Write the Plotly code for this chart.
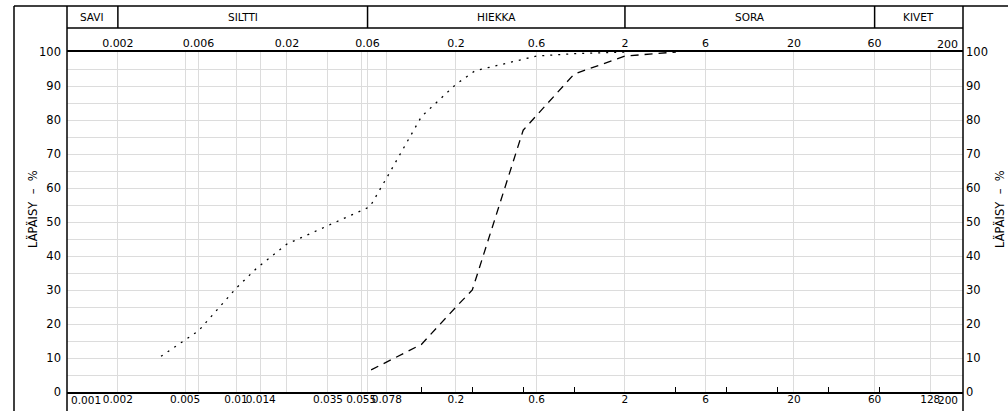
import math
import plotly.graph_objects as go

# ---- data ----
fine_d = [0.0036, 0.006, 0.01, 0.0133, 0.02, 0.037, 0.062, 0.08, 0.125, 0.2, 0.26, 0.6, 1.0, 2.0]
fine_p = [10.5, 18, 30.5, 36.5, 43.5, 49.5, 54.5, 64, 81, 90.5, 94.5, 98.8, 99.5, 100]

coarse_d = [0.063, 0.125, 0.2, 0.25, 0.5, 1.0, 2.0, 4.0]
coarse_p = [6.5, 14, 25, 30, 77, 93.5, 98.8, 100]

bottom_vals = [0.002, 0.005, 0.01, 0.014, 0.035, 0.055, 0.078, 0.2, 0.6, 2, 6, 20, 60, 128]
bottom_text = ["0.002", "0.005", "0.01", "0.014", "0.035", "0.055", "0.078", "0.2", "0.6", "2", "6", "20", "60", "128"]
top_vals = [0.002, 0.006, 0.02, 0.06, 0.2, 0.6, 2, 6, 20, 60]
top_text = ["0.002", "0.006", "0.02", "0.06", "0.2", "0.6", "2", "6", "20", "60"]
sieve_vals = [0.125, 0.25, 0.5, 1, 4, 8, 16, 32, 64]

x_min, x_max = 0.001, 200
class_bounds = [0.001, 0.002, 0.06, 2, 60, 200]
class_names = ["SAVI", "SILTTI", "HIEKKA", "SORA", "KIVET"]
y_ticks = list(range(0, 101, 10))
y_title = "LÄPÄISY\u00a0\u00a0–\u00a0\u00a0%"

# ---- layout geometry (pixels) ----
W, H = 1008, 411
L, R, T, B = 67, 963, 52, 392


def py(Y):
    return (B - Y) / (B - T)


def px(X):
    return (X - L) / (R - L)


FONT = "DejaVu Sans"
NUM_SIZE = 11
BOT_SIZE = 10.5
GRID = "#dcdcdc"

fig = go.Figure()
fig.add_trace(go.Scatter(x=fine_d, y=fine_p, mode="lines",
                         line=dict(color="black", width=1.3, dash="2px,6px"),
                         xaxis="x", yaxis="y", showlegend=False, hoverinfo="skip"))
fig.add_trace(go.Scatter(x=coarse_d, y=coarse_p, mode="lines",
                         line=dict(color="black", width=1.3, dash="8px,6px"),
                         xaxis="x2", yaxis="y2", showlegend=False, hoverinfo="skip"))

xr = [math.log10(x_min), math.log10(x_max)]

fig.update_layout(
    width=W, height=H,
    margin=dict(l=L, r=W - R, t=T, b=H - B, autoexpand=False),
    paper_bgcolor="white", plot_bgcolor="white",
    font=dict(family=FONT, size=NUM_SIZE, color="black"),
    showlegend=False,
    xaxis=dict(type="log", range=xr, tickmode="array", tickvals=bottom_vals, ticktext=bottom_text,
               tickangle=0, ticks="", showgrid=True, gridcolor=GRID, gridwidth=1,
               showline=True, linecolor="black", linewidth=1.5, zeroline=False,
               ticklabelstandoff=-3, tickfont=dict(size=BOT_SIZE),
               minor=dict(tickmode="array", tickvals=sieve_vals, ticks="inside", ticklen=5,
                          tickcolor="black", tickwidth=1, showgrid=False)),
    xaxis2=dict(type="log", range=xr, overlaying="x", side="top", tickmode="array",
                tickvals=top_vals, ticktext=top_text, tickangle=0, ticks="",
                showgrid=True, gridcolor=GRID, gridwidth=1,
                showline=True, linecolor="black", linewidth=1.5, zeroline=False,
                ticklabelstandoff=-1),
    yaxis=dict(range=[0, 100], tickmode="array", tickvals=y_ticks, ticks="",
               showgrid=True, gridcolor=GRID, gridwidth=1, zeroline=False, showline=False,
               ticklabelstandoff=5, tickfont=dict(size=11.5),
               minor=dict(dtick=5, showgrid=True, gridcolor=GRID, gridwidth=1)),
    yaxis2=dict(range=[0, 100], overlaying="y", side="right", tickmode="array", tickvals=y_ticks,
                ticks="", showgrid=False, zeroline=False, showline=False, ticklabelstandoff=2,
                tickfont=dict(size=11.5)),
)

shapes = []
line = dict(color="black", width=1.5)
# outer frame
shapes.append(dict(type="line", xref="paper", yref="paper", x0=px(14), x1=px(W), y0=py(6), y1=py(6), line=line))
shapes.append(dict(type="line", xref="paper", yref="paper", x0=px(14), x1=px(14), y0=py(6), y1=py(H), line=line))
# plot borders extended
shapes.append(dict(type="line", xref="paper", yref="paper", x0=0, x1=0, y0=py(6), y1=py(H), line=line))
shapes.append(dict(type="line", xref="paper", yref="paper", x0=1, x1=1, y0=py(6), y1=py(H), line=line))
# class band bottom line
shapes.append(dict(type="line", xref="paper", yref="paper", x0=0, x1=1, y0=py(28), y1=py(28), line=line))
# class dividers
for b in class_bounds[1:-1]:
    shapes.append(dict(type="line", xref="x", yref="paper", x0=b, x1=b, y0=py(6), y1=py(28), line=line))
fig.update_layout(shapes=shapes)

ann = []
for i, name in enumerate(class_names):
    mid = (math.log10(class_bounds[i]) + math.log10(class_bounds[i + 1])) / 2
    ann.append(dict(x=mid, xref="x", y=py(17.5), yref="paper", text=name, showarrow=False,
                    font=dict(size=10.5, family=FONT), xanchor="center", yanchor="middle"))
# edge tick labels
ann.append(dict(x=xr[0], xref="x", y=py(400), yref="paper", text="0.001", showarrow=False,
                xanchor="left", xshift=2, yanchor="middle", font=dict(size=BOT_SIZE, family=FONT)))
ann.append(dict(x=xr[1], xref="x", y=py(400), yref="paper", text="200", showarrow=False,
                xanchor="right", xshift=-3, yanchor="middle", font=dict(size=BOT_SIZE, family=FONT)))
ann.append(dict(x=xr[1], xref="x", y=py(44), yref="paper", text="200", showarrow=False,
                xanchor="right", xshift=-3, yanchor="middle", font=dict(size=NUM_SIZE, family=FONT)))
# axis titles
ann.append(dict(x=px(32), xref="paper", y=py(209), yref="paper", text=y_title, showarrow=False,
                textangle=-90, xanchor="center", yanchor="middle", font=dict(size=11.5, family=FONT)))
ann.append(dict(x=px(999), xref="paper", y=py(209), yref="paper", text=y_title, showarrow=False,
                textangle=-90, xanchor="center", yanchor="middle", font=dict(size=11.5, family=FONT)))
fig.update_layout(annotations=ann)

fig.write_html("out.html", config={"displayModeBar": False},
               post_script="document.body.style.margin='0';document.body.style.overflow='hidden';")
